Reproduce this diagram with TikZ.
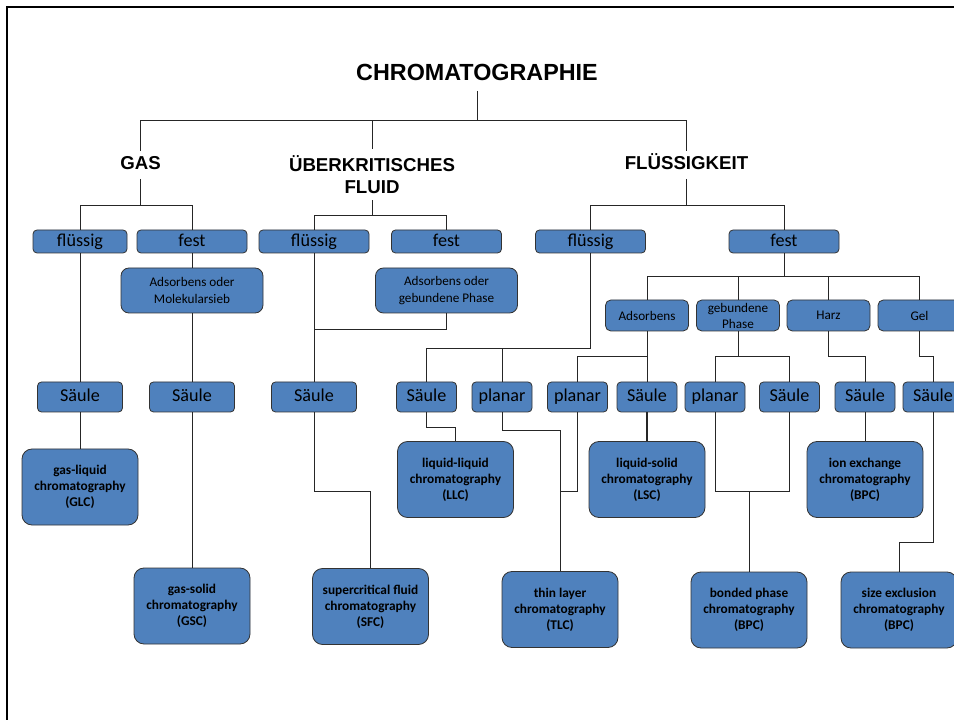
\documentclass[tikz,border=0pt]{standalone}
\usepackage{fontspec}
\setmainfont{Carlito}
\newfontfamily\headfont{Liberation Sans}
\usepackage{tikz}
\definecolor{boxblue}{RGB}{79,129,189}

\begin{document}
\begin{tikzpicture}[x=0.75pt,y=-0.75pt,line width=0.6pt,
		box/.style={draw=black!80,fill=boxblue,inner sep=0pt,align=center},
		title/.style={font=\headfont\bfseries\fontsize{17.5}{20}\selectfont,text height=0.72em,text depth=0pt,inner sep=7.2pt},
		head/.style={font=\headfont\bfseries\fontsize{14}{16.2}\selectfont,align=center},
		head1/.style={head,text height=0.72em,text depth=0pt,inner sep=6.5pt},
		phase/.style={box,rounded corners=3pt,minimum width=82.5pt,minimum height=17.25pt,font=\fontsize{13.6}{16}\selectfont,text height=0.92em,text depth=0.2em},
		carrier/.style={box,rounded corners=6pt,minimum width=106.5pt,minimum height=33.75pt,font=\fontsize{9.9}{12.2}\selectfont},
		kind/.style={box,rounded corners=4pt,minimum width=62.25pt,minimum height=23.25pt,font=\fontsize{9.9}{12}\selectfont},
		form/.style={box,rounded corners=3pt,minimum width=45pt,minimum height=22.5pt,font=\fontsize{13.6}{16}\selectfont,text height=0.92em,text depth=0.2em},
		method/.style={box,rounded corners=7.5pt,minimum width=87pt,minimum height=57pt,font=\bfseries\fontsize{10}{12}\selectfont}]
			\useasboundingbox (0,0) rectangle (954,720);
			\draw[line width=2pt] (7,725) -- (7,7) -- (960,7);

			\node[title] (chrom) at (477,76) {CHROMATOGRAPHIE};
			\node[head1] (gas) at (140.5,165) {GAS};
			\node[head,inner sep=5pt] (fluid) at (372,174.5) {ÜBERKRITISCHES\\FLUID};
			\node[head1] (liquid) at (686.5,165) {FLÜSSIGKEIT};

			\node[phase,minimum width=70.5pt] (gliq) at (80,241.5) {flüssig};
			\node[phase] (gsol) at (192,241.5) {fest};
			\node[phase] (fliq) at (314,241.5) {flüssig};
			\node[phase] (fsol) at (446.5,241.5) {fest};
			\node[phase] (lliq) at (590.5,241.5) {flüssig};
			\node[phase] (lsol) at (784,241.5) {fest};

			\node[carrier] (gads) at (192,290.5) {Adsorbens oder\\Molekularsieb};
			\node[carrier] (fads) at (446.5,290.5) {Adsorbens oder\\gebundene Phase};

			\node[kind] (ads) at (647,315.5) {Adsorbens};
			\node[kind] (bond) at (738,315.5) {gebundene\\Phase};
			\node[kind] (resin) at (828.5,315.5) {Harz};
			\node[kind] (gel) at (919.5,315.5) {Gel};

			\node[form,minimum width=63.75pt] (gcol1) at (80,397) {Säule};
			\node[form,minimum width=63.75pt] (gcol2) at (192,397) {Säule};
			\node[form,minimum width=63.75pt] (fcol) at (314,397) {Säule};
			\node[form] (lcol1) at (426.5,397) {Säule};
			\node[form] (lpl1) at (502,397) {planar};
			\node[form] (lpl2) at (577.5,397) {planar};
			\node[form] (lcol2) at (647,397) {Säule};
			\node[form] (lpl3) at (715,397) {planar};
			\node[form] (lcol3) at (789.5,397) {Säule};
			\node[form] (lcol4) at (865,397) {Säule};
			\node[form] (lcol5) at (933,397) {Säule};

			\node[method] (glc) at (80,487) {gas-liquid\\chromatography\\(GLC)};
			\node[method] (gsc) at (192,606) {gas-solid\\chromatography\\(GSC)};
			\node[method] (sfc) at (370.5,606.5) {supercritical fluid\\chromatography\\(SFC)};
			\node[method] (llc) at (455.5,479.5) {liquid-liquid\\chromatography\\(LLC)};
			\node[method] (tlc) at (560,609.5) {thin layer\\chromatography\\(TLC)};
			\node[method] (lsc) at (647,479.5) {liquid-solid\\chromatography\\(LSC)};
			\node[method] (bpc) at (749,610) {bonded phase\\chromatography\\(BPC)};
			\node[method] (iec) at (865,479.5) {ion exchange\\chromatography\\(BPC)};
			\node[method] (sec) at (899,610) {size exclusion\\chromatography\\(BPC)};

			% bus levels
			\coordinate (b0) at (0,120);
			\coordinate (b1) at (0,205);
			\coordinate (b2) at (0,215);
			\coordinate (b3) at (0,276);
			\coordinate (b4) at (0,329);
			\coordinate (b5) at (0,348);
			\coordinate (b6) at (0,356);
			\coordinate (b7) at (0,427);
			\coordinate (b8) at (0,430);
			\coordinate (b9) at (0,491);
			\coordinate (b10) at (0,542);

			\begin{scope}[draw=black!85]
				\draw (chrom.south) -- (chrom.south |- b0);
				\draw (gas.north) |- (liquid.north |- b0) -- (liquid.north);
				\draw (fluid.north) -- (fluid.north |- b0);

				\draw (gas.south) -- (gas.south |- b1);
				\draw (gliq.north) |- (gsol.north |- b1) -- (gsol.north);
				\draw (fluid.south) -- (fluid.south |- b2);
				\draw (fliq.north) |- (fsol.north |- b2) -- (fsol.north);
				\draw (liquid.south) -- (liquid.south |- b1);
				\draw (lliq.north) |- (lsol.north |- b1) -- (lsol.north);

				\draw (gliq) -- (gcol1);
				\draw (gsol) -- (gads);
				\draw (gads) -- (gcol2);
				\draw (fliq) -- (fcol);
				\draw (fads.south) |- (fcol.north |- b4);
				\draw (lliq.south) |- (lcol1.north |- b5) -- (lcol1.north);
				\draw (lpl1.north) -- (lpl1.north |- b5);

				\draw (lsol.south) -- (lsol.south |- b3);
				\draw (ads.north) |- (gel.north |- b3) -- (gel.north);
				\draw (bond.north) -- (bond.north |- b3);
				\draw (resin.north) -- (resin.north |- b3);
				\draw (ads) -- (lcol2);
				\draw (lpl2.north) |- (ads.south |- b6);
				\draw (bond.south) -- (bond.south |- b6);
				\draw (lpl3.north) |- (lcol3.north |- b6) -- (lcol3.north);
				\draw (resin.south) -- (resin.south |- b6) -| (lcol4.north);
				\draw (gel.south) -- (gel.south |- b6) -| (lcol5.north);

				\draw (gcol1) -- (glc);
				\draw (gcol2) -- (gsc);
				\draw (fcol.south) |- (sfc.north |- b9) -- (sfc.north);
				\draw (lcol1.south) |- (llc.north |- b7) -- (llc.north);
				\draw (lpl1.south) |- (tlc.north |- b8) -- (tlc.north);
				\draw (lpl2.south) |- (tlc.north |- b9);
				\draw[line width=1pt] (lcol2) -- (lsc);
				\draw (lpl3.south) |- (lcol3.south |- b9) -- (lcol3.south);
				\draw (bpc.north) -- (bpc.north |- b9);
				\draw (lcol4) -- (iec);
				\draw (lcol5.south) |- (sec.north |- b10) -- (sec.north);
			\end{scope}
		\end{tikzpicture}
\end{document}
